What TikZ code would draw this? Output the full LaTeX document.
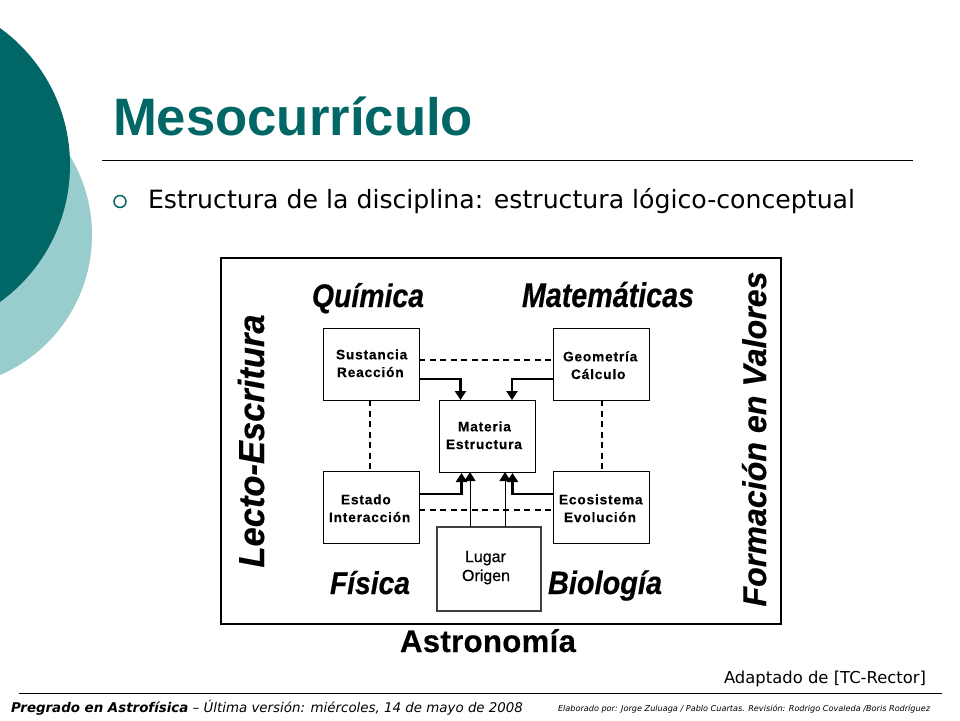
\documentclass[tikz,border=0pt]{standalone}
\usepackage{graphicx}
\usepackage{fontspec}
\setmainfont{Liberation Sans}
\newfontfamily\vfont{DejaVu Sans}
\newfontfamily\boxfont[LetterSpace=6,FakeBold=0.3]{Liberation Sans}
\newfontfamily\capfont[FakeBold=0.4]{Liberation Sans}
\newfontfamily\medfont[FakeBold=0.5]{Liberation Sans}
\newfontfamily\astfont[LetterSpace=1,FakeBold=0.4]{Liberation Sans}
\usetikzlibrary{arrows.meta}
\definecolor{tealdark}{HTML}{006666}
\definecolor{teallight}{HTML}{99CCCC}
\newcommand{\fs}[1]{\fontsize{#1}{#1}\selectfont}
\newcommand{\fitw}[2]{\resizebox{#1pt}{!}{#2}}
\newcommand{\fitv}[3]{\scalebox{1}[#2]{\resizebox{#1pt}{!}{#3}}}
\tikzset{
  x=1pt,y=-1pt,
  lbl/.style={inner sep=0,outer sep=0,anchor=base west},
  captxt/.style={inner sep=0,outer sep=0,anchor=base,font=\capfont\bfseries\itshape},
  boxn/.style={draw=black,line width=0.9pt,fill=white,minimum width=96.5pt,minimum height=72pt,inner sep=0,outer sep=0},
  boxt/.style={lbl,font=\boxfont\bfseries\fs{13.7},align=left},
  dashline/.style={line width=1.6pt,dash pattern=on 6pt off 4.5pt},
  heavy/.style={line width=2.3pt,-{Triangle[length=9pt,width=11pt]}},
  lightarrow/.style={line width=1pt,-{Triangle[length=9pt,width=11pt]}},
}
\begin{document}
\begin{tikzpicture}
\useasboundingbox (0,0) rectangle (960,720);
\fill[white] (0,0) rectangle (960,720);
% decorative circles
\begin{scope}
\clip (0,0) rectangle (960,720);
\fill[teallight] (-60.5,235) circle[radius=152.5];
\fill[tealdark] (-99,165) circle[radius=169];
\end{scope}
% title
\node[lbl,font=\bfseries,text=tealdark] (title) at (113,135) {\fitw{360}{Mesocurrículo}};
\coordinate (tl) at (102,160);
\coordinate (tr) at (913,160);
\draw[line width=0.9pt] (tl) -- (tr);
\node[circle,draw=tealdark,line width=1.5pt,minimum size=12pt,inner sep=0] (bullet) at (120,201.5) {};
\node[lbl] (sub) at (148,208) {\fitw{707}{\vfont Estructura de la disciplina: estructura lógico-conceptual}};
% frame
\draw[line width=2.6pt,fill=white] (221,258) rectangle (781,624);
% boxes
\node[boxn] (s) at (371.2,364) {};
\node[boxn] (g) at (601.2,364) {};
\node[boxn] (m) at (487.5,436) {};
\node[boxn] (e) at (371.2,507) {};
\node[boxn] (v) at (601.2,507) {};
\node[draw=black!75,line width=2.6pt,fill=white,minimum width=104pt,minimum height=84pt,inner sep=0,outer sep=0] (l) at (489,569) {};
% connectors
\draw[dashline] ([yshift=4pt]s.east) -- ([yshift=4pt]g.west);
\draw[dashline] ([yshift=-3pt]e.east) -- ([yshift=-3pt]v.west);
\draw[dashline] ([xshift=-1.2pt]s.south) -- ([xshift=-1.2pt]e.north);
\draw[dashline] ([xshift=0.8pt]g.south) -- ([xshift=0.8pt]v.north);
\draw[heavy] ([yshift=-15pt]s.east) -| ([xshift=-27pt]m.north);
\draw[heavy] ([yshift=-15pt]g.west) -| ([xshift=24.5pt]m.north);
\draw[heavy] ([yshift=13pt]e.east) -| ([xshift=-26pt,yshift=-1pt]m.south);
\draw[heavy] ([yshift=13pt]v.west) -| ([xshift=25pt,yshift=-1pt]m.south);
\draw[lightarrow] ([xshift=-19pt]l.north) -- ([xshift=-17.5pt]m.south);
\draw[lightarrow] ([xshift=16pt]l.north) -- ([xshift=17.5pt]m.south);
% box labels
\node[boxt] (ts) at (336,377) {Sustancia\\[4pt]\hspace*{1pt}Reacción};
\node[boxt] (tg) at (563,379) {Geometría\\[4pt]\hspace*{8pt}Cálculo};
\node[boxt] (tm) at (446,449) {\hspace*{12pt}Materia\\[4pt]Estructura};
\node[boxt] (te) at (329,522) {\hspace*{12pt}Estado\\[4pt]Interacción};
\node[boxt] (tv) at (559,522) {Ecosistema\\[4pt]\hspace*{5pt}Evolución};
\node[lbl,font=\medfont\fs{16},align=left] (tl2) at (462,581) {\hspace*{3pt}Lugar\\[3pt]Origen};
% captions
\node[captxt] (q) at (368,307) {\fitv{112}{1.15}{Química}};
\node[captxt] (ma) at (608,307) {\fitv{172}{1.2}{Matemáticas}};
\node[captxt] (f) at (370,594) {\fitv{80}{1.12}{Física}};
\node[captxt] (b) at (605,594) {\fitv{114}{1.12}{Biología}};
\node[captxt,rotate=90] (le) at (264,441) {\fitv{253}{1.05}{Lecto-Escritura}};
\node[captxt,rotate=90] (fv) at (766,439) {\fitv{335}{1.02}{Formación en Valores}};
\node[inner sep=0,font=\astfont\bfseries,anchor=base] (as) at (488,652) {\fitw{176}{Astronomía}};
% source and footer
\node[lbl] (ad) at (724,683) {\fitw{202}{\vfont Adaptado de [TC-Rector]}};
\coordinate (fl) at (19,693);
\coordinate (fr) at (942,693);
\draw[line width=0.9pt] (fl) -- (fr);
\node[lbl] (p) at (11,712) {\fitw{512}{\vfont\itshape\textbf{Pregrado en Astrofísica} – Última versión: miércoles, 14 de mayo de 2008}};
\node[lbl] (el) at (558,711) {\fitw{372}{\vfont\itshape Elaborado por: Jorge Zuluaga / Pablo Cuartas.  Revisión: Rodrigo Covaleda /Boris Rodríguez}};
\end{tikzpicture}
\end{document}
